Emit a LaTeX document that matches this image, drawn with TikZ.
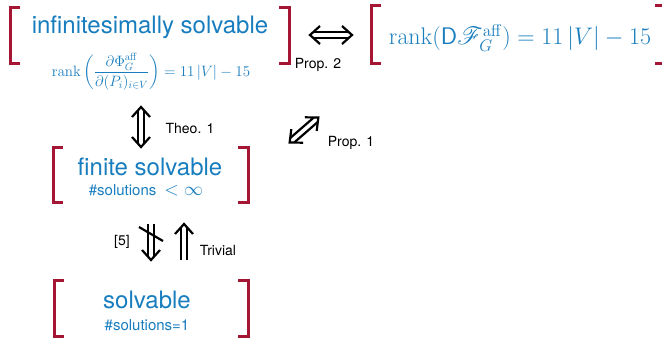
\RequirePackage{fix-cm}
\documentclass[tikz,border=0pt]{standalone}
\usepackage[no-math]{fontspec}
\setmainfont{TeX Gyre Heros}
\usepackage{amsmath}
\usepackage{mathrsfs}
\definecolor{tblue}{RGB}{24,125,190}
\definecolor{bred}{RGB}{165,22,52}
\tikzset{
  brk/.style={draw=bred, line width=3pt},
  title/.style={text=tblue, font=\fontsize{24}{28}\selectfont, inner sep=0pt},
  sub/.style={text=tblue, font=\fontsize{15}{18}\selectfont, inner sep=0pt},
  lbl/.style={text=black, font=\fontsize{14}{16}\selectfont, inner sep=0pt},
  arw/.style={draw=black, line width=2.2pt, line join=miter, line cap=butt},
}
\newcommand{\lbrk}[3]{\draw[brk] (#1+10,#2) -- (#1,#2) -- (#1,#3) -- (#1+10,#3);}
\newcommand{\rbrk}[3]{\draw[brk] (#1-10,#2) -- (#1,#2) -- (#1,#3) -- (#1-10,#3);}
% double arrow with two heads: centre x, y, angle, half length
\newcommand{\twohead}[4]{%
  \begin{scope}[shift={(#1,#2)}, rotate=#3]
    \draw[arw] (#4-10,-9) -- (#4,0) -- (#4-10,9);
    \draw[arw] (-#4+10,-9) -- (-#4,0) -- (-#4+10,9);
    \draw[arw] (-#4+3.4,3) -- (#4-3.4,3);
    \draw[arw] (-#4+3.4,-3) -- (#4-3.4,-3);
  \end{scope}}
% double arrow with one head (pointing along +x)
\newcommand{\onehead}[4]{%
  \begin{scope}[shift={(#1,#2)}, rotate=#3]
    \draw[arw] (#4-10,-9) -- (#4,0) -- (#4-10,9);
    \draw[arw] (-#4,3) -- (#4-3.4,3);
    \draw[arw] (-#4,-3) -- (#4-3.4,-3);
  \end{scope}}
\begin{document}
\begin{tikzpicture}[x=1pt,y=-1pt]
\useasboundingbox (0,0) rectangle (662,341);
\clip (0,0) rectangle (662,341);
% top-left box
\lbrk{10}{7}{63}
\rbrk{289}{7}{63}
\node[title] (inf) at (150,27) {infinitesimally solvable};
\node[text=tblue, font=\fontsize{15}{18}\selectfont, inner sep=0pt] (infr) at (151,72)
  {$\operatorname{rank}\left(\dfrac{\partial\Phi_G^{\mathrm{aff}}}{\partial(P_i)_{i\in V}}\right) = 11\,|V| - 15$};
% right box
\lbrk{371}{5}{63}
\rbrk{665}{5}{63}
\node[text=tblue, font=\fontsize{24}{28}\selectfont, inner sep=0pt] (rk) at (520,38)
  {$\operatorname{rank}(\mathsf{D}\mathscr{F}_G^{\mathrm{aff}}) = 11\,|V| - 15$};
% finite box
\lbrk{53}{147}{202}
\rbrk{248}{147}{202}
\node[title] (fin) at (150,167) {finite solvable};
\node[sub] (fins) at (146,190) {\#solutions\hspace{8pt}{\fontsize{19}{20}\selectfont$<\infty$}};
% solvable box
\lbrk{54}{280}{336}
\rbrk{248}{280}{336}
\node[title] (sol) at (147,300) {solvable};
\node[sub] (sols) at (147,325) {\#solutions=1};
% arrows
\twohead{331}{35}{0}{21}
\node[lbl] (p2) at (318,65) {Prop. 2};
\twohead{141}{127}{90}{20}
\node[lbl] (t1) at (190,128) {Theo. 1};
\twohead{304}{130}{41}{19}
\node[lbl] (p1) at (351,143) {Prop. 1};
\onehead{151}{242}{-90}{18}
\coordinate (s1) at (139,227); \coordinate (s2) at (163,241);
\draw[arw] (s1) -- (s2);
\onehead{184}{242}{90}{18}
\node[lbl] (ref) at (122,242) {[5]};
\node[lbl] (triv) at (218,250) {Trivial};
\end{tikzpicture}
\end{document}
